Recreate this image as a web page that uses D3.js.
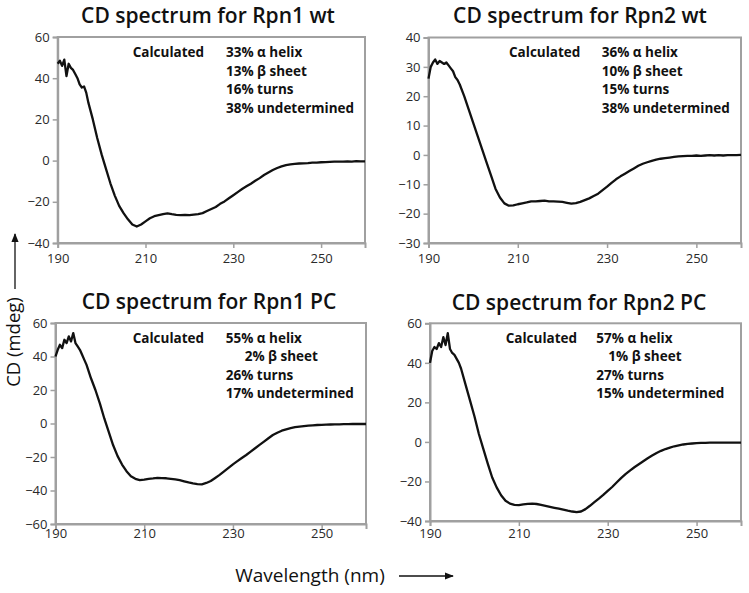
<!DOCTYPE html>
<html><head><meta charset="utf-8">
<script src="https://cdn.jsdelivr.net/npm/d3@7/dist/d3.min.js"></script>
<style>
body{margin:0;background:#fff;}
svg{display:block;font-family:"Open Sans",sans-serif;}
</style></head>
<body>
<svg id="chart" width="749" height="593"></svg>
<script>
// wavelength grid (nm): half-nm steps in the noisy far-UV start, then 1 nm
const wavelengths = d3.range(190, 197, 0.5).concat(d3.range(197, 261, 1));

const rpn1wt = [47,48.5,46,49,41,47,45,44,42,40,37,35.5,36,33,
  28,20,11,3,-4,-11,-17,-22,-25.5,-28.5,-31,-32,-31,-29.5,-28,-27,-26.5,-26,-25.6,-26,-26.3,-26.5,-26.3,-26.5,-26.2,-26,-25.5,-24.5,-23.5,-22.5,-21,-19.8,-18.3,-16.8,-15.3,-13.8,-12.5,-11.2,-9.8,-8.5,-7,-5.8,-4.6,-3.6,-2.8,-2.2,-1.8,-1.6,-1.4,-1.3,-1.2,-1,-1,-0.8,-0.7,-0.6,-0.5,-0.5,-0.5,-0.4,-0.5,-0.3,-0.4,-0.4];
const rpn2wt = [26,30,31.5,32.5,31,32,31.5,31,31.5,30.5,29.5,28.5,26.5,25.5,
  24,20,15.5,11,6.5,2,-2.5,-7,-11.5,-14.5,-16.5,-17.3,-17.2,-16.8,-16.5,-16.2,-15.8,-15.8,-15.7,-15.6,-15.8,-15.8,-15.9,-16,-16.3,-16.6,-16.4,-16,-15.4,-14.8,-14,-13.2,-12,-10.8,-9.5,-8.3,-7.3,-6.4,-5.5,-4.6,-3.7,-3,-2.5,-2,-1.6,-1.3,-1.1,-0.9,-0.7,-0.5,-0.4,-0.3,-0.3,-0.2,-0.3,-0.2,-0.1,-0.2,-0.1,-0.2,-0.1,-0.1,-0.1,0];
const rpn1pc = [40,44,47,45,50,48,52,49,54,48,46,44,41,38,
  35,27,20,12,3,-5,-13,-19.5,-24.5,-28.5,-31.5,-33,-33.8,-33.5,-33,-32.8,-32.5,-32.6,-32.7,-33,-33.3,-33.8,-34.5,-35.2,-35.8,-36.2,-36.3,-35.5,-34.3,-32.5,-30.7,-28.6,-26.5,-24.4,-22.5,-20.6,-18.8,-16.8,-14.8,-12.8,-10.8,-8.8,-6.9,-5.5,-4.3,-3.5,-2.8,-2.2,-1.9,-1.6,-1.3,-1.1,-0.9,-0.8,-0.7,-0.6,-0.5,-0.5,-0.4,-0.4,-0.3,-0.3,-0.3,-0.3];
const rpn2pc = [40,46,48,47,50,48,53,49,55,47,45,44,42,40,
  37,29,21,13,4,-3.5,-11,-18,-23,-27,-29.8,-31.2,-31.8,-32,-31.6,-31.3,-31.2,-31.4,-31.8,-32.3,-32.8,-33.3,-33.8,-34.3,-34.8,-35.2,-35.5,-35.2,-34,-32.3,-30.5,-28.7,-26.8,-24.8,-22.8,-20.5,-18.3,-16.3,-14.5,-12.8,-11.3,-9.8,-8.3,-6.9,-5.6,-4.5,-3.6,-2.9,-2.2,-1.7,-1.3,-1,-0.8,-0.6,-0.5,-0.5,-0.4,-0.4,-0.4,-0.4,-0.4,-0.4,-0.4,-0.4];

const titles = ["CD spectrum for Rpn1 wt","CD spectrum for Rpn2 wt","CD spectrum for Rpn1 PC","CD spectrum for Rpn2 PC"];
const xTicks = [190,210,230,250];
const yTicks1 = [-40,-20,0,20,40,60];
const yTicks2 = [-30,-20,-10,0,10,20,30,40];
const yTicks3 = [-60,-40,-20,0,20,40,60];
const yTicks4 = [-40,-20,0,20,40,60];
const calcLabel = "Calculated";
const content1 = ["33% α helix","13% β sheet","16% turns","38% undetermined"];
const content2 = ["36% α helix","10% β sheet","15% turns","38% undetermined"];
const content3 = ["55% α helix","2% β sheet","26% turns","17% undetermined"];
const content4 = ["57% α helix","1% β sheet","27% turns","15% undetermined"];
const xLabel = "Wavelength (nm)";
const yLabel = "CD (mdeg)";

const panels = [
  {title:titles[0], data:rpn1wt, ticks:yTicks1, content:content1,
   x0:57.7, x1:365, y0:37, y1:243, tx:208, ty:23, lblGap:20, cx:132.7, c2:226, cy:57, indent:[0,0,0,0]},
  {title:titles[1], data:rpn2wt, ticks:yTicks2, content:content2,
   x0:428.5, x1:741, y0:37.5, y1:243, tx:580, ty:23, lblGap:20, cx:509, c2:601.7, cy:57, indent:[0,0,0,0]},
  {title:titles[2], data:rpn1pc, ticks:yTicks3, content:content3,
   x0:55.5, x1:366, y0:323, y1:524, tx:209, ty:309, lblGap:14, cx:132.7, c2:225.7, cy:342.7, indent:[0,19,0,0]},
  {title:titles[3], data:rpn2pc, ticks:yTicks4, content:content4,
   x0:430, x1:741, y0:323.3, y1:521, tx:579, ty:310, lblGap:17, cx:505.7, c2:596.3, cy:342.7, indent:[0,12,0,0]}
];

const svg = d3.select("#chart");
const axisGray = "#a0a0a0";
const txtColor = "#2a2a2a";

panels.forEach(p => {
  const x = d3.scaleLinear().domain([190,260]).range([p.x0, p.x1]);
  const y = d3.scaleLinear().domain(d3.extent(p.ticks)).range([p.y1, p.y0]);
  const g = svg.append("g");

  g.append("rect").attr("x", p.x0).attr("y", p.y0)
    .attr("width", p.x1 - p.x0).attr("height", p.y1 - p.y0)
    .attr("fill", "none").attr("stroke", axisGray).attr("stroke-width", 2);

  const ya = g.append("g").attr("transform", `translate(${p.x0},0)`)
    .call(d3.axisLeft(y).tickValues(p.ticks).tickSize(5).tickPadding(3).tickFormat(d3.format("d")));
  ya.select(".domain").attr("stroke", axisGray).attr("stroke-width", 2);
  ya.selectAll(".tick line").attr("stroke", axisGray).attr("stroke-width", 1.5);
  ya.selectAll(".tick text").attr("fill", txtColor).style("font-size", "13px").style("font-family", "Open Sans");

  const xa = g.append("g").attr("transform", `translate(0,${p.y1})`)
    .call(d3.axisBottom(x).tickValues(xTicks).tickSize(5).tickPadding(0).tickFormat(d3.format("d")));
  xa.select(".domain").attr("stroke", axisGray).attr("stroke-width", 2);
  xa.selectAll(".tick line").attr("stroke", axisGray).attr("stroke-width", 1.5);
  xa.selectAll(".tick text").attr("fill", txtColor).attr("dy", null)
    .attr("y", p.lblGap).style("font-size", "13px").style("font-family", "Open Sans");

  const line = d3.line().x((d,i) => x(wavelengths[i])).y(d => y(d));
  g.append("path").datum(p.data).attr("d", line)
    .attr("fill", "none").attr("stroke", "#111").attr("stroke-width", 2.3)
    .attr("stroke-linejoin", "round");

  g.append("text").attr("x", p.tx).attr("y", p.ty).attr("text-anchor", "middle")
    .style("font-size", "21px").style("font-weight", 600).attr("fill", "#111").text(p.title);

  g.append("text").attr("x", p.cx).attr("y", p.cy)
    .style("font-size", "13.5px").style("font-weight", 700).attr("fill", "#111").text(calcLabel);
  p.content.forEach((t, i) => {
    g.append("text").attr("x", p.c2 + p.indent[i]).attr("y", p.cy + i * 18.5)
      .style("font-size", "13.5px").style("font-weight", 700).attr("fill", "#111").text(t);
  });
});

svg.append("defs").append("marker").attr("id", "arr")
  .attr("viewBox", "0 0 10 10").attr("refX", 9).attr("refY", 5)
  .attr("markerWidth", 7).attr("markerHeight", 7).attr("orient", "auto-start-reverse")
  .append("path").attr("d", "M0,1 L10,5 L0,9 Z").attr("fill", "#111");

svg.append("line").attr("x1", 15).attr("y1", 289).attr("x2", 15).attr("y2", 234)
  .attr("stroke", "#111").attr("stroke-width", 1.3).attr("marker-end", "url(#arr)");
svg.append("text").attr("transform", "translate(20,342) rotate(-90)").attr("text-anchor", "middle")
  .style("font-size", "18.5px").attr("fill", "#111").text(yLabel);

svg.append("text").attr("x", 310).attr("y", 582).attr("text-anchor", "middle")
  .style("font-size", "19px").attr("fill", "#111").text(xLabel);
svg.append("line").attr("x1", 399).attr("y1", 576).attr("x2", 453).attr("y2", 576)
  .attr("stroke", "#111").attr("stroke-width", 1.3).attr("marker-end", "url(#arr)");
</script>
</body></html>
